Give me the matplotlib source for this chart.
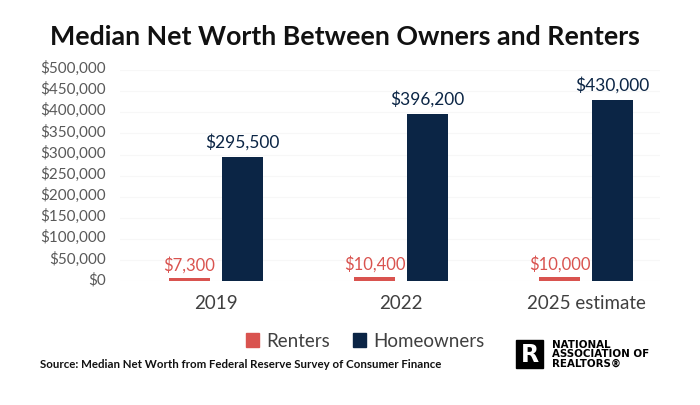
import matplotlib
matplotlib.use("Agg")
import matplotlib.pyplot as plt
from matplotlib.patches import Rectangle, Patch
from matplotlib.transforms import ScaledTranslation
import numpy as np

categories = ["2019", "2022", "2025 estimate"]
renters = [7300, 10400, 10000]
homeowners = [295500, 396200, 430000]
series_names = ["Renters", "Homeowners"]
yticks = list(range(0, 500001, 50000))

RED = "#D9534F"
NAVY = "#0B2545"
GRAY = "#595959"

plt.rcParams['font.family'] = ['Lato', 'DejaVu Sans']

fig = plt.figure(figsize=(7.0, 4.06), dpi=100)
ax = fig.add_axes([0.1714, 0.3042, 0.7714, 0.5209])

x = np.arange(len(categories))
w = 0.22
off = 0.143
ax.bar(x - off, renters, w, color=RED, label=series_names[0])
ax.bar(x + off, homeowners, w, color=NAVY, label=series_names[1])

for xi, v in zip(x, renters):
    ax.annotate(f"${v:,}", (xi - off, v), xytext=(0, 4), textcoords="offset points",
                ha="center", va="bottom", fontsize=12, color=RED)
for xi, v in zip(x, homeowners):
    ax.annotate(f"${v:,}", (xi + off, v), xytext=(0, 5), textcoords="offset points",
                ha="center", va="bottom", fontsize=12.5, color=NAVY)

ax.set_xlim(-0.519, 2.4)
ax.set_ylim(0, 500000)
ax.set_yticks(yticks)
ax.set_yticklabels([f"${t:,}" for t in yticks], fontsize=11, color=GRAY)
ax.set_xticks(x)
ax.set_xticklabels(categories, fontsize=13.5, color="#404040")
ax.tick_params(axis='both', length=0)
ax.tick_params(axis='y', pad=10)
ax.tick_params(axis='x', pad=9)
for lab in ax.get_yticklabels():
    lab.set_transform(lab.get_transform() + ScaledTranslation(0, 4 / 100, fig.dpi_scale_trans))
ax.grid(axis='y', color="#f7f7f7", lw=0.8)
ax.set_axisbelow(True)
for s in ax.spines.values():
    s.set_visible(False)

handles = [Patch(color=RED), Patch(color=NAVY)]
fig.legend(handles, series_names, loc="center", bbox_to_anchor=(365 / 700, 1 - 342 / 406),
           ncol=2, frameon=False, fontsize=13.5, handlelength=0.7, handleheight=0.7,
           handletextpad=0.4, columnspacing=1.2, labelcolor="#404040")

fig.text(345 / 700, 1 - 37 / 406, "Median Net Worth Between Owners and Renters",
         ha="center", va="center", fontsize=19.3, fontweight="bold", color="#111111")

fig.text(40 / 700, 1 - 365 / 406,
         "Source: Median Net Worth from Federal Reserve Survey of Consumer Finance",
         ha="left", va="center", fontsize=8.3, fontweight="bold", color="#111111")

# logo
fig.patches.append(Rectangle((516 / 700, 1 - 369 / 406), 27 / 700, 28 / 406,
                             transform=fig.transFigure, color="black"))
fig.text(529.5 / 700, 1 - 355 / 406, "R", ha="center", va="center", fontsize=17,
         fontweight="bold", color="white", family="DejaVu Sans")
for i, t in enumerate(["NATIONAL", "ASSOCIATION OF", "REALTORS®"]):
    fig.text(552 / 700, 1 - (345 + 9.5 * i) / 406, t, ha="left", va="center",
             fontsize=7.4, fontweight="bold", color="black", family="DejaVu Sans")

fig.savefig("out.png", dpi=100, facecolor="white")
